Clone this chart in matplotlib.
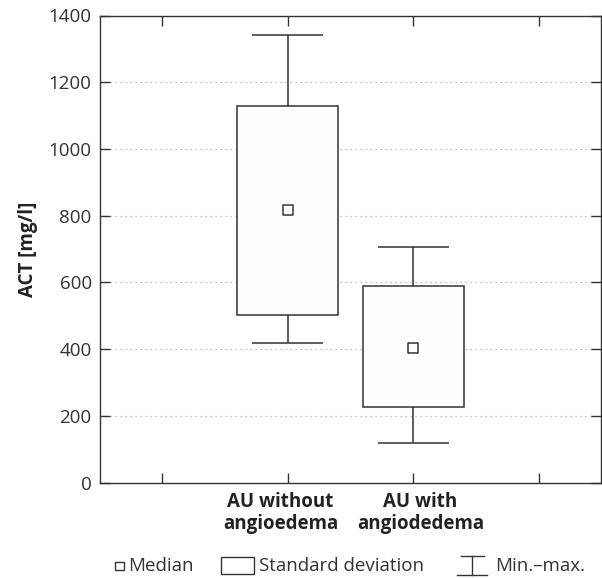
import matplotlib
matplotlib.use("Agg")
import matplotlib.pyplot as plt
from matplotlib.patches import Rectangle
from matplotlib.lines import Line2D

plt.rcParams['font.family'] = ['Open Sans', 'DejaVu Sans']

categories = ['AU without\nangioedema', 'AU with\nangiodedema']
positions = [1, 2]
sd_low = [503, 226]
sd_high = [1130, 588]
medians = [816, 405]
mins = [419, 118]
maxs = [1341, 707]

ytick_values = [0, 200, 400, 600, 800, 1000, 1200, 1400]

C = '#333333'
W = 602 / 100.0
H = 579 / 100.0
fig = plt.figure(figsize=(W, H), dpi=100)
ax = fig.add_axes([100 / 602, 1 - 482.7 / 579, 501 / 602, 467.2 / 579])

box_w = 0.8
cap_w = 0.56

for yv in ytick_values[1:-1]:
    ax.axhline(yv, color='#aaaaaa', lw=0.9, ls=(0, (1, 3)), zorder=0)

heights = [h - l for h, l in zip(sd_high, sd_low)]
ax.bar(positions, heights, bottom=sd_low, width=box_w, facecolor='#fdfdfd',
       edgecolor=C, linewidth=1.1, zorder=2)
ax.vlines(positions, sd_high, maxs, color=C, lw=1.1, zorder=2)
ax.vlines(positions, mins, sd_low, color=C, lw=1.1, zorder=2)
for p, lo, hi in zip(positions, mins, maxs):
    ax.hlines([lo, hi], p - cap_w / 2, p + cap_w / 2, color=C, lw=1.1, zorder=2)
ax.scatter(positions, medians, marker='s', s=45, facecolor='white',
           edgecolor=C, linewidths=1.1, zorder=3)

ax.set_xlim(-0.49, 3.49)
ax.set_ylim(0, 1400)
ax.set_yticks(ytick_values)
ax.set_xticks([0, 1, 2, 3])
ax.set_xticklabels(['', '', '', ''])
# category labels, slightly shifted as in the reference
label_shift = [-7, 7]
for p, lab, dx in zip(positions, categories, label_shift):
    ax.annotate(lab, xy=(p, 0), xycoords=('data', 'axes fraction'),
                xytext=(dx, -9), textcoords='offset pixels',
                ha='center', va='top', multialignment='center',
                fontweight='bold', fontsize=13.5, color='#222222', linespacing=1.15)
ax.tick_params(axis='both', direction='in', length=7, width=1.0, color=C,
               top=True, right=True, labelsize=13.5, labelcolor='#333333')
ax.tick_params(axis='y', pad=6)
for s in ax.spines.values():
    s.set_color(C)
    s.set_linewidth(1.0)
ax.set_ylabel('ACT [mg/l]', fontsize=13.5, fontweight='bold', color='#222222', labelpad=8)

# legend drawn in figure pixel coordinates
def fx(px):
    return px / 602

def fy(py):
    return 1 - py / 579

ly = 566
fig.patches.append(Rectangle((fx(115), fy(570)), fx(9), 8 / 579, transform=fig.transFigure,
                             facecolor='white', edgecolor=C, lw=1.0))
fig.text(fx(128), fy(ly), 'Median', fontsize=13.5, color='#333333', va='center', ha='left')
fig.patches.append(Rectangle((fx(221), fy(574)), fx(33), 17 / 579, transform=fig.transFigure,
                             facecolor='white', edgecolor=C, lw=1.0))
fig.text(fx(259), fy(ly), 'Standard deviation', fontsize=13.5, color='#333333', va='center', ha='left')
fig.lines.append(Line2D([fx(461), fx(484)], [fy(556), fy(556)], transform=fig.transFigure, color=C, lw=1.0))
fig.lines.append(Line2D([fx(457), fx(487)], [fy(575), fy(575)], transform=fig.transFigure, color=C, lw=1.0))
fig.lines.append(Line2D([fx(472), fx(472)], [fy(556), fy(575)], transform=fig.transFigure, color=C, lw=1.0))
fig.text(fx(495), fy(ly), 'Min.–max.', fontsize=13.5, color='#333333', va='center', ha='left')

fig.savefig('out.png', dpi=100)
